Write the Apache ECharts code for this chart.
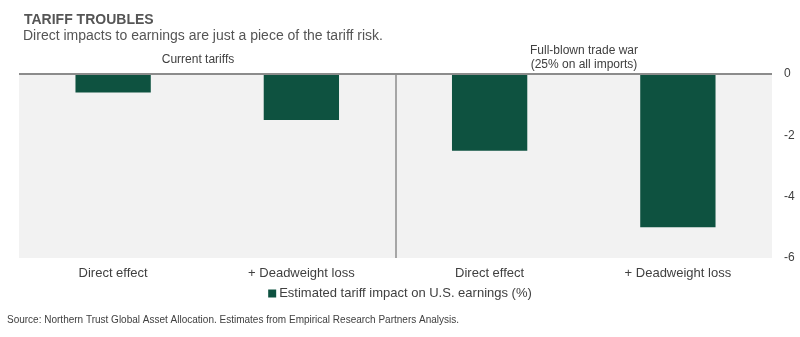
<!DOCTYPE html>
<html>
<head>
<meta charset="utf-8">
<script src="https://cdn.jsdelivr.net/npm/echarts@6/dist/echarts.min.js"></script>
<style>
  html, body { margin: 0; padding: 0; background: #fff; }
  #chart { width: 800px; height: 337px; }
</style>
</head>
<body>
<div id="chart"></div>
<script>
// Scenario categories along the x axis
const categories = ['Direct effect', '+ Deadweight loss', 'Direct effect', '+ Deadweight loss'];
// Estimated impact on U.S. earnings, percent
const impactValues = [-0.6, -1.5, -2.5, -5.0];
// Value axis ticks
const yTicks = [-6, -4, -2, 0];
const seriesName = 'Estimated tariff impact on U.S. earnings (%)';
// Boundary between the two scenario groups, in category-slot units (0..4)
const groupDivider = 2;

const font = 'Liberation Sans, Arial, sans-serif';
const textColor = '#404040';

const chart = echarts.init(document.getElementById('chart'), null, { renderer: 'canvas' });

chart.setOption({
  animation: false,
  backgroundColor: '#ffffff',
  textStyle: { fontFamily: font },
  grid: {
    left: 19, right: 28, top: 74, bottom: 79,
    show: true, backgroundColor: '#f2f2f2', borderWidth: 0
  },
  graphic: [
    { type: 'text', left: 24, top: 13,
      style: { text: 'TARIFF TROUBLES', font: 'bold 14px ' + font, fill: '#555555' } },
    { type: 'text', left: 23, top: 29,
      style: { text: 'Direct impacts to earnings are just a piece of the tariff risk.', font: '14px ' + font, fill: '#555555' } },
    { type: 'text', x: 198, y: 54,
      style: { text: 'Current tariffs', font: '12px ' + font, fill: textColor, align: 'center' } },
    { type: 'text', x: 584, y: 44,
      style: { text: 'Full-blown trade war\n(25% on all imports)', font: '12px ' + font, lineHeight: 14, fill: textColor, align: 'center' } },
    { type: 'text', left: 7, top: 315,
      style: { text: 'Source: Northern Trust Global Asset Allocation. Estimates from Empirical Research Partners Analysis.', font: '10px ' + font, fill: '#404040' } }
  ],
  legend: {
    bottom: 32, left: 'center',
    icon: 'rect', itemWidth: 8, itemHeight: 8, itemGap: 2,
    textStyle: { fontSize: 13, color: textColor, fontFamily: font, padding: [0, 0, 0, -2] },
    data: [seriesName]
  },
  xAxis: [{
    type: 'category',
    data: categories,
    position: 'bottom',
    axisLine: { show: false },
    axisTick: { show: false },
    axisLabel: { color: textColor, fontSize: 13, margin: 9, fontFamily: font },
    splitLine: { show: false }
  }, {
    // continuous companion axis spanning the same slots, used for the group divider
    type: 'value',
    min: 0, max: categories.length,
    show: false
  }],
  yAxis: {
    type: 'value',
    position: 'right',
    min: yTicks[0], max: yTicks[yTicks.length - 1], interval: 2,
    axisLine: { show: false },
    axisTick: { show: false },
    splitLine: { show: false },
    axisLabel: { color: textColor, fontSize: 12, margin: 12, fontFamily: font }
  },
  series: [{
    name: seriesName,
    type: 'bar',
    data: impactValues,
    barWidth: '40%',
    itemStyle: { color: '#0e5240' },
    markLine: {
      silent: true,
      symbol: 'none',
      label: { show: false },
      lineStyle: { color: '#8c8c8c', width: 2, type: 'solid' },
      data: [{ yAxis: 0 }]
    }
  }, {
    name: 'divider',
    type: 'line',
    xAxisIndex: 1,
    data: [],
    markLine: {
      silent: true,
      symbol: 'none',
      label: { show: false },
      lineStyle: { color: '#8c8c8c', width: 1.5, type: 'solid' },
      data: [{ xAxis: groupDivider }]
    }
  }]
});
</script>
</body>
</html>
